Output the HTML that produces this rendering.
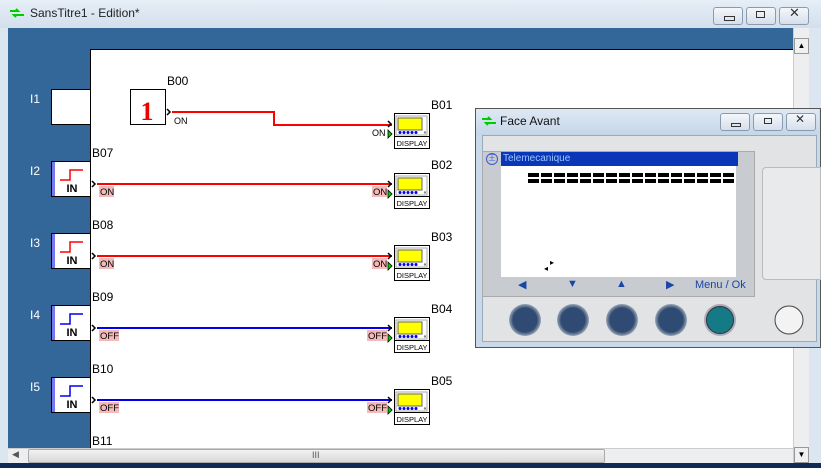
<!DOCTYPE html>
<html><head><meta charset="utf-8"><style>
body{margin:0;width:821px;height:468px;overflow:hidden;background:#dbe6f1;font-family:"Liberation Sans",sans-serif;position:relative}
.a{position:absolute}
.t{font-size:12px;color:#000}
.btn{position:absolute;width:28px;height:16px;border:1px solid #8a9bb0;border-radius:3px;background:linear-gradient(#f4f7fb,#d5dfeb)}
</style></head><body>
<!-- main title -->
<div class="a" style="left:0;top:0;width:821px;height:28px;background:linear-gradient(#e6eef7,#d3dfec)"></div>
<div class="a t" style="left:30px;top:6px;font-size:12px;color:#222">SansTitre1 - Edition*</div>
<svg class="a" style="left:8px;top:8px" width="18" height="10"><path d="M2 3h8l-2-2M16 7H6l2 2" stroke="#0c0" stroke-width="2" fill="none"/></svg>
<div class="btn" style="left:713px;top:7px"></div><div class="btn" style="left:746px;top:7px"></div><div class="btn" style="left:779px;top:7px"></div>
<div class="a" style="left:724px;top:16px;width:9px;height:3px;border:1px solid #333"></div>
<div class="a" style="left:756px;top:11px;width:7px;height:5px;border:1px solid #333"></div>
<div class="a" style="left:789px;top:5px;font-size:13px;color:#333">✕</div>
<!-- client -->
<div class="a" style="left:8px;top:28px;width:785px;height:420px;background:#336699"></div>
<div class="a" style="left:90px;top:49px;width:703px;height:399px;background:#fff;border-left:1px solid #000;border-top:1px solid #000"></div>
<!-- scrollbars -->
<div class="a" style="left:793px;top:28px;width:15px;height:435px;background:#eceef0;border-left:1px solid #ccc"></div>
<div class="a" style="left:794px;top:38px;width:13px;height:14px;background:#f0f0f0;border:1px solid #999;font-size:8px;text-align:center;line-height:14px">▲</div>
<div class="a" style="left:794px;top:447px;width:13px;height:14px;background:#f0f0f0;border:1px solid #999;font-size:8px;text-align:center;line-height:14px">▼</div>
<div class="a" style="left:8px;top:448px;width:785px;height:15px;background:#eceef0;border-top:1px solid #ccc"></div>
<div class="a" style="left:28px;top:449px;width:575px;height:12px;background:linear-gradient(#f2f2f2,#d8d8d8);border:1px solid #aaa;border-radius:2px"></div>
<div class="a" style="left:12px;top:449px;font-size:9px;color:#555">◀</div>
<div class="a" style="left:312px;top:450px;font-size:9px;color:#555">III</div>
<div class="a" style="left:0;top:463px;width:821px;height:5px;background:#0f2a55"></div>
<svg class="a" style="left:0;top:0" width="821" height="468">
<g font-family="Liberation Sans" font-size="12" fill="#fff">
<text x="30" y="103">I1</text><text x="30" y="175">I2</text><text x="30" y="247">I3</text><text x="30" y="319">I4</text><text x="30" y="391">I5</text></g>
<rect x="51.5" y="89.5" width="39" height="35" fill="#fff" stroke="#000"/>
<g id="in">
</g>
<g font-family="Liberation Sans" font-size="12" fill="#000">
<text x="92" y="157">B07</text><text x="92" y="229">B08</text><text x="92" y="301">B09</text><text x="92" y="373">B10</text><text x="92" y="445">B11</text>
<text x="167" y="85">B00</text><text x="431" y="109">B01</text><text x="431" y="169">B02</text><text x="431" y="241">B03</text><text x="431" y="313">B04</text><text x="431" y="385">B05</text></g>
<rect x="130.5" y="89.5" width="35" height="35" fill="#fff" stroke="#000"/>
<text x="147" y="120" text-anchor="middle" font-family="Liberation Serif" font-weight="bold" font-size="26" fill="#e00">1</text>
<path d="M167 109l3 3-3 3" stroke="#000" stroke-width="1.5" fill="none"/>
<text x="174" y="124" font-family="Liberation Sans" font-size="9">ON</text>
<path d="M172 112H274V125H392" stroke="#f00" stroke-width="2" fill="none"/>
<text x="372" y="136" font-family="Liberation Sans" font-size="9">ON</text>
</svg>
<div id="rows"></div>
<script>
var s='';var svg='';
var rows=[[161,'#f00','ON',173],[233,'#f00','ON',245],[305,'#00e','OFF',317],[377,'#00e','OFF',389]];
function disp(y){return '<rect x="394.5" y="'+(y+.5)+'" width="35" height="35" fill="#fff" stroke="#000"/><rect x="396" y="'+(y+3)+'" width="31" height="19" fill="none" stroke="#aaa"/><rect x="398" y="'+(y+5)+'" width="24" height="12" fill="#ff0" stroke="#666"/>'+[0,1,2,3,4].map(function(i){return '<circle cx="'+(400+i*4)+'" cy="'+(y+19.5)+'" r="1.5" fill="#00f"/>'}).join('')+'<circle cx="425" cy="'+(y+19.5)+'" r="1.2" fill="#888"/><line x1="394" y1="'+(y+23.5)+'" x2="430" y2="'+(y+23.5)+'" stroke="#000"/><text x="412" y="'+(y+33)+'" text-anchor="middle" font-family="Liberation Sans" font-size="7.5">DISPLAY</text><path d="M388 '+(y+8)+'l3 3-3 3" stroke="#000" stroke-width="1.5" fill="none"/><path d="M388 '+(y+17)+'l4 4-4 4z" fill="#0c0" stroke="#000" stroke-width=".8"/>';}
svg+=disp(113);
rows.forEach(function(r){var y=r[0],ly=y+23,c=r[1];
svg+='<rect x="51.5" y="'+(y+.5)+'" width="39" height="35" fill="#fff" stroke="#000"/><rect x="52" y="'+(y+1)+'" width="3" height="34" fill="#77e"/><path d="M60 '+(y+19)+'h10v-10h13" stroke="'+c+'" stroke-width="1.5" fill="none"/><text x="72" y="'+(y+31)+'" text-anchor="middle" font-family="Liberation Sans" font-weight="bold" font-size="11">IN</text>';
svg+='<path d="M92 '+(ly-3)+'l3 3-3 3" stroke="#000" stroke-width="1.5" fill="none"/><line x1="97" y1="'+ly+'" x2="392" y2="'+ly+'" stroke="'+c+'" stroke-width="2"/>';
var w=r[2]=='ON'?15:20;
svg+='<rect x="99" y="'+(ly+2)+'" width="'+w+'" height="11" fill="#f4baba"/><text x="100" y="'+(ly+11)+'" font-family="Liberation Sans" font-size="9.5">'+r[2]+'</text>';
svg+='<rect x="'+(387-w)+'" y="'+(ly+2)+'" width="'+w+'" height="11" fill="#f4baba"/><text x="'+(388-w)+'" y="'+(ly+11)+'" font-family="Liberation Sans" font-size="9.5">'+r[2]+'</text>';
svg+=disp(r[3]);});
document.getElementById('rows').innerHTML='<svg class="a" style="left:0;top:0" width="821" height="468">'+svg+'</svg>';
</script>
<!-- Face Avant -->
<div class="a" style="left:475px;top:108px;width:344px;height:238px;background:#c9d9ea;border:1px solid #555"></div>
<div class="a" style="left:476px;top:109px;width:343px;height:26px;background:linear-gradient(#dfe9f4,#c5d6e8)"></div>
<svg class="a" style="left:480px;top:116px" width="18" height="10"><path d="M2 3h8l-2-2M16 7H6l2 2" stroke="#0c0" stroke-width="2" fill="none"/></svg>
<div class="a" style="left:500px;top:114px;font-size:12px;color:#111">Face Avant</div>
<div class="btn" style="left:720px;top:113px"></div><div class="btn" style="left:753px;top:113px"></div><div class="btn" style="left:786px;top:113px"></div>
<div class="a" style="left:731px;top:123px;width:8px;height:2px;border:1px solid #333"></div>
<div class="a" style="left:764px;top:118px;width:6px;height:4px;border:1px solid #333"></div>
<div class="a" style="left:795px;top:112px;font-size:12px;color:#333">✕</div>
<div class="a" style="left:482px;top:135px;width:333px;height:205px;background:#e1e3e5;border:1px solid #9ab"></div>
<div class="a" style="left:482px;top:151px;width:271px;height:144px;background:#c8cbcf;border:1px solid #aaa"></div>
<div class="a" style="left:501px;top:152px;width:237px;height:14px;background:#0a36b8;color:#9cc6ff;font-size:10px;line-height:14px;padding-left:2px;box-sizing:border-box">Telemecanique</div>
<div class="a" style="left:486px;top:153px;width:10px;height:10px;border:1px solid #3a5bd0;border-radius:50%;font-size:7px;color:#3a5bd0;text-align:center;line-height:10px">王</div>
<div class="a" style="left:501px;top:166px;width:235px;height:111px;background:#fff"></div>
<div class="a" style="left:528px;top:173px;width:207px;height:4px;background:repeating-linear-gradient(90deg,#000 0 11px,transparent 11px 13px)"></div>
<div class="a" style="left:528px;top:179px;width:207px;height:4px;background:repeating-linear-gradient(90deg,#000 0 11px,transparent 11px 13px)"></div>
<div class="a" style="left:550px;top:258px;font-size:8px">▸</div><div class="a" style="left:544px;top:264px;font-size:8px">◂</div>
<div class="a" style="left:518px;top:278px;color:#1947a8;font-size:11px">◀</div>
<div class="a" style="left:567px;top:278px;color:#1947a8;font-size:11px">▼</div>
<div class="a" style="left:616px;top:278px;color:#1947a8;font-size:11px">▲</div>
<div class="a" style="left:666px;top:278px;color:#1947a8;font-size:11px">▶</div>
<div class="a" style="left:695px;top:279px;color:#1947a8;font-size:11px">Menu / Ok</div>
<div class="a" style="left:762px;top:167px;width:57px;height:111px;background:#e8eaec;border:1px solid #bbb;border-radius:4px 0 0 4px"></div>
<svg class="a" style="left:475px;top:290px" width="346" height="60">
<defs><radialGradient id="g"><stop offset="0.75" stop-color="#2f4b73"/><stop offset="1" stop-color="#9aa6b4"/></radialGradient></defs>
<circle cx="50" cy="30" r="16" fill="url(#g)"/><circle cx="98" cy="30" r="16" fill="url(#g)"/><circle cx="147" cy="30" r="16" fill="url(#g)"/><circle cx="196" cy="30" r="16" fill="url(#g)"/>
<circle cx="245" cy="30" r="16" fill="#aab"/><circle cx="245" cy="30" r="13.5" fill="#137a86" stroke="#333"/>
<circle cx="314" cy="30" r="14" fill="#f3f3f3" stroke="#444"/>
</svg>
</body></html>
